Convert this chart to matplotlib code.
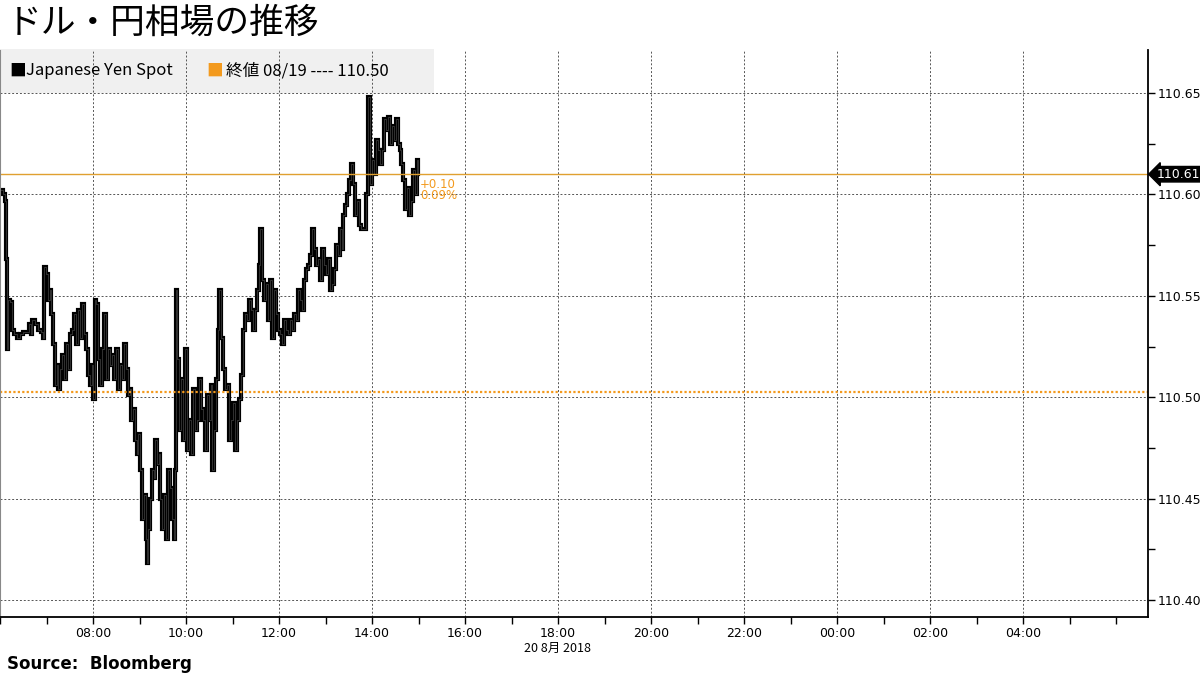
import matplotlib
matplotlib.use("Agg")
import matplotlib.pyplot as plt
from matplotlib.ticker import MultipleLocator, FuncFormatter, FixedLocator

plt.rcParams['font.family'] = ['Noto Sans CJK JP', 'DejaVu Sans']

# minutes after 06:00 on 20 Aug 2018, USD/JPY spot
minutes = [0, 4, 6, 8, 9, 10, 13, 15, 18, 22, 26, 30, 34, 37, 40, 41, 45, 49, 53, 55,
           57, 59, 62, 65, 66, 68, 71, 74, 75, 77, 80, 83, 85, 88, 90, 93, 95, 98, 101, 103,
           106, 108, 111, 114, 116, 119, 120, 123, 124, 126, 129, 132, 134, 137, 139, 142, 144, 147, 150, 152,
           155, 157, 160, 163, 165, 168, 169, 172, 174, 177, 178, 181, 183, 186, 188, 190, 191, 194, 196, 199,
           200, 203, 205, 206, 209, 212, 214, 217, 219, 222, 224, 226, 227, 228, 231, 233, 236, 239, 241, 244,
           246, 249, 252, 254, 257, 259, 262, 264, 267, 270, 272, 273, 276, 279, 281, 283, 285, 288, 290, 293,
           295, 298, 301, 303, 306, 308, 311, 313, 316, 319, 321, 324, 326, 329, 332, 334, 335, 338, 341, 343,
           346, 348, 351, 353, 356, 359, 361, 364, 366, 369, 372, 374, 377, 379, 382, 384, 387, 390, 392, 395,
           397, 400, 402, 405, 408, 410, 413, 415, 418, 421, 423, 426, 428, 431, 433, 436, 439, 441, 442, 445,
           448, 450, 453, 455, 458, 461, 463, 466, 468, 471, 472, 475, 477, 480, 482, 485, 488, 490, 493, 495,
           498, 501, 503, 506, 508, 511, 513, 516, 517, 520, 522, 525, 528, 530, 533, 535, 538, 539]
prices = [110.602, 110.600, 110.597, 110.568, 110.524, 110.548, 110.547, 110.533, 110.531, 110.529,
          110.531, 110.532, 110.532, 110.536, 110.531, 110.538, 110.536, 110.533, 110.532, 110.529,
          110.564, 110.561, 110.548, 110.553, 110.541, 110.526, 110.506, 110.516, 110.504, 110.514,
          110.521, 110.509, 110.526, 110.514, 110.531, 110.533, 110.541, 110.526, 110.543, 110.529,
          110.546, 110.531, 110.524, 110.511, 110.506, 110.516, 110.499, 110.548, 110.546, 110.519,
          110.506, 110.524, 110.541, 110.509, 110.524, 110.516, 110.521, 110.509, 110.524, 110.504,
          110.516, 110.509, 110.526, 110.514, 110.501, 110.504, 110.489, 110.494, 110.479, 110.472,
          110.482, 110.464, 110.440, 110.452, 110.430, 110.418, 110.435, 110.450, 110.464, 110.460,
          110.479, 110.467, 110.472, 110.450, 110.435, 110.452, 110.430, 110.464, 110.455, 110.440,
          110.430, 110.464, 110.553, 110.519, 110.484, 110.509, 110.479, 110.524, 110.474, 110.489,
          110.472, 110.504, 110.484, 110.489, 110.509, 110.494, 110.489, 110.474, 110.501, 110.489,
          110.506, 110.464, 110.484, 110.509, 110.533, 110.553, 110.529, 110.514, 110.504, 110.506,
          110.479, 110.489, 110.497, 110.474, 110.489, 110.499, 110.511, 110.533, 110.541, 110.538,
          110.548, 110.543, 110.533, 110.543, 110.553, 110.565, 110.583, 110.558, 110.548, 110.556,
          110.538, 110.558, 110.529, 110.553, 110.541, 110.533, 110.531, 110.526, 110.538, 110.533,
          110.531, 110.538, 110.533, 110.541, 110.538, 110.553, 110.548, 110.543, 110.558, 110.563,
          110.565, 110.570, 110.583, 110.573, 110.565, 110.568, 110.558, 110.573, 110.565, 110.561,
          110.568, 110.553, 110.556, 110.563, 110.575, 110.570, 110.583, 110.573, 110.590, 110.595,
          110.600, 110.607, 110.615, 110.605, 110.590, 110.597, 110.585, 110.583, 110.583, 110.583,
          110.600, 110.648, 110.605, 110.617, 110.610, 110.627, 110.622, 110.615, 110.622, 110.637,
          110.632, 110.638, 110.625, 110.634, 110.627, 110.637, 110.625, 110.622, 110.615, 110.607,
          110.593, 110.603, 110.590, 110.597, 110.612, 110.600, 110.617, 110.610]
prev_close = 110.5025
last = 110.61
change_txt = ["+0.10", "0.09%"]
hour_ticks = [8, 10, 12, 14, 16, 18, 20, 22, 24, 26, 28]

hours = [6 + m / 60 for m in minutes]
orange = "#f39a1e"

fig = plt.figure(figsize=(12, 6.75), dpi=100)
fig.patches.append(plt.Rectangle((0.0, 0.862), 0.362, 0.066, transform=fig.transFigure,
                                 fc="#f0f0f0", ec="none", zorder=-1))
ax = fig.add_axes([0, 0.086, 0.957, 0.840])
ax.set_facecolor("none")

ax.plot(hours, prices, color="black", lw=3.0, drawstyle="steps-post", solid_joinstyle="miter")
ax.plot(hours, prices, color="#555555", lw=0.4, drawstyle="steps-post")
ax.axhline(prev_close, color=orange, lw=1.6, ls=(0, (1, 1)))
ax.axhline(last, color="#e0a030", lw=1)
ax.text(hours[-1] + 0.05, last - 0.002, change_txt[0], color=orange, fontsize=8.5, va="top",
        family=["DejaVu Sans"])
ax.text(hours[-1] + 0.05, last - 0.0075, change_txt[1], color=orange, fontsize=8.5, va="top",
        family=["DejaVu Sans"])

ax.set_xlim(6, 6 + 1148 / 46.5)
ax.set_ylim(110.3916, 110.6713)

ax.xaxis.set_major_locator(FixedLocator(hour_ticks))
ax.xaxis.set_minor_locator(MultipleLocator(1))
ax.xaxis.set_major_formatter(FuncFormatter(lambda v, p: f"{int(round(v)) % 24:02d}:00"))
ax.yaxis.set_major_locator(MultipleLocator(0.05))
ax.yaxis.set_minor_locator(MultipleLocator(0.025))
ax.yaxis.tick_right()
ax.yaxis.set_major_formatter(FuncFormatter(lambda v, p: f"{v:.2f}"))
ax.tick_params(axis="both", which="both", direction="out", length=5, width=1, labelsize=9)
ax.tick_params(axis="x", pad=2)
ax.tick_params(axis="y", pad=2)
for lab in ax.get_xticklabels() + ax.get_yticklabels():
    lab.set_family(["DejaVu Sans"])
ax.grid(True, which="major", color="#555555", ls=(0, (2, 2)), lw=0.7)

ax.spines["top"].set_visible(False)
ax.spines["left"].set_color("#888888")
ax.spines["right"].set_linewidth(1.3)
ax.spines["bottom"].set_linewidth(1.3)

ax.annotate(f"{last:.2f}", xy=(1.0, last), xycoords=("axes fraction", "data"),
            xytext=(6, 0), textcoords="offset points", va="center", ha="left",
            color="white", fontsize=9, family=["DejaVu Sans"],
            bbox=dict(boxstyle="larrow,pad=0.1", fc="black", ec="black"))

fig.text(0.006, 0.966, "ドル・円相場の推移", fontsize=25, va="center", ha="left")
fig.text(0.008, 0.895, "\u25a0", fontsize=12, va="center", color="black")
fig.text(0.022, 0.895, "Japanese Yen Spot", fontsize=12, va="center")
fig.text(0.172, 0.895, "\u25a0", fontsize=12, va="center", color=orange)
fig.text(0.188, 0.895, "終値 08/19 ---- 110.50", fontsize=12, va="center")
fig.text(0.465, 0.040, "20 8月 2018", fontsize=9, va="center", ha="center")
fig.text(0.006, 0.017, "Source:  Bloomberg", fontsize=12, fontweight="bold", va="center",
         family=["DejaVu Sans"])

fig.savefig("out.png", dpi=100)
